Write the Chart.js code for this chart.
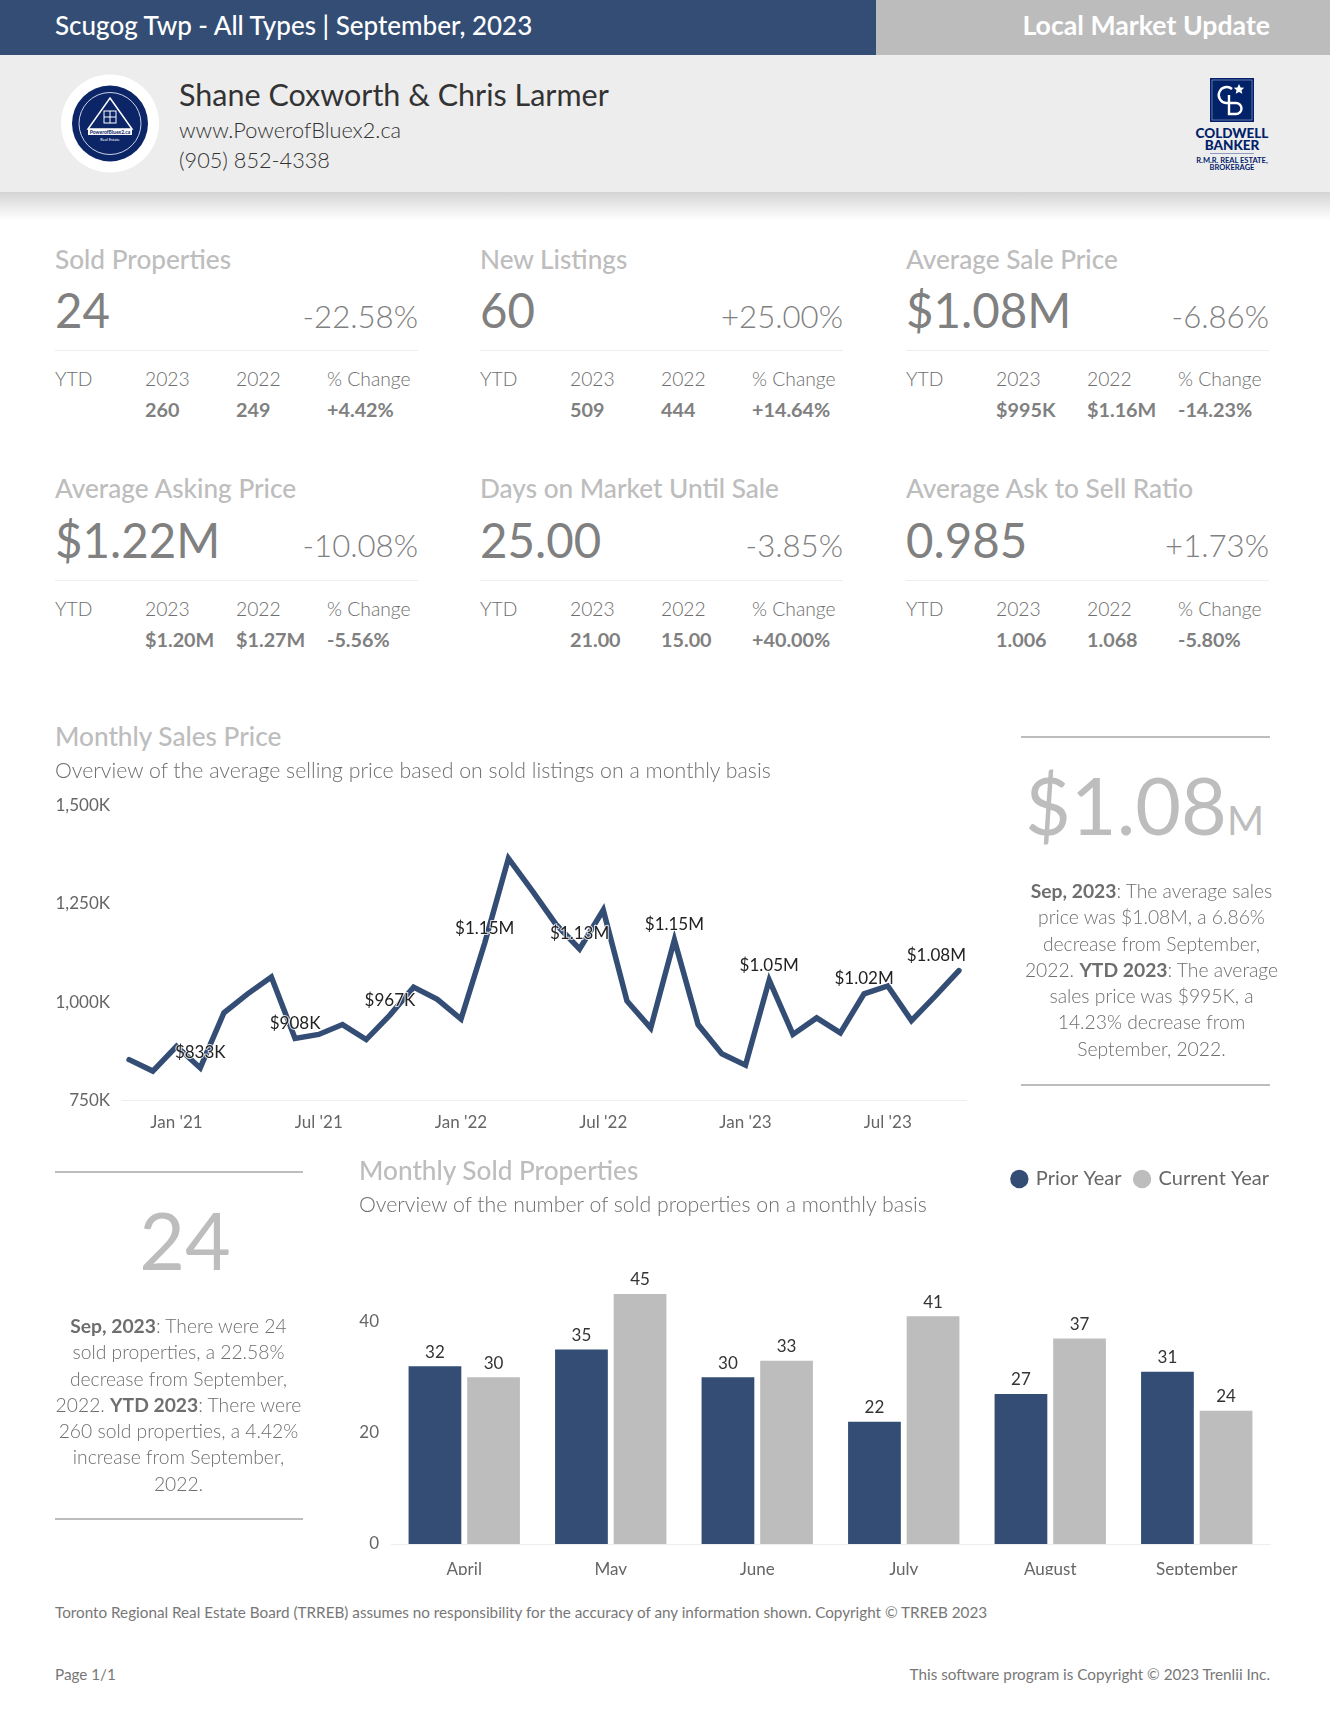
<!DOCTYPE html>
<html>
<head>
<meta charset="utf-8">
<title>Local Market Update</title>
<script src="https://cdn.jsdelivr.net/npm/chart.js@4"></script>
<style>
  html, body { margin: 0; padding: 0; background: #fff; }
  #page { position: relative; width: 1330px; height: 1722px; overflow: hidden; font-family: Lato, sans-serif; }
  .t { position: absolute; white-space: pre; line-height: 1.2; }
  .box { position: absolute; }
  canvas { position: absolute; }
</style>
</head>
<body>
<div id="page">
  <div class="box" style="left:0;top:0;width:876px;height:55px;background:#334d75"></div>
  <div class="box" style="left:876px;top:0;width:454px;height:55px;background:#bcbcbc"></div>
  <div class="box" style="left:0;top:55px;width:1330px;height:137px;background:#ededed"></div>
  <div class="box" style="left:0;top:192px;width:1330px;height:28px;background:linear-gradient(#d4d4d4,#fff)"></div>
  <svg class="box" style="left:61px;top:74px" width="98" height="99" viewBox="0 0 98 99">
    <circle cx="49" cy="49.5" r="49" fill="#fff"/>
    <circle cx="49" cy="49.5" r="38" fill="#0b2566"/>
    <circle cx="49" cy="49.5" r="31" fill="none" stroke="#c9d2e6" stroke-width="1"/>
    <path d="M49 24 L71 55 H27 Z" fill="none" stroke="#fff" stroke-width="1.5"/>
    <rect x="43" y="37" width="12" height="12" fill="none" stroke="#fff"/>
    <path d="M49 37 V49 M43 43 H55" stroke="#fff"/>
    <rect x="27" y="55" width="44" height="6" fill="#fff"/>
    <text x="49" y="60" font-size="5" font-family="Lato" font-weight="700" text-anchor="middle" fill="#0b2566">PowerofBluex2.ca</text>
    <text x="49" y="67" font-size="4" font-family="Lato" text-anchor="middle" fill="#fff">Real Estate</text>
  </svg>
  <svg class="box" style="left:1210px;top:78px" width="44" height="44" viewBox="0 0 44 44">
    <rect width="44" height="44" fill="#012169"/>
    <rect x="2" y="2" width="40" height="40" fill="none" stroke="#8f9cc0" stroke-width="0.7"/>
    <path d="M22 11 A8 8 0 1 0 16 25 H26 A5 5 0 0 1 26 36 H19 V17" fill="none" stroke="#fff" stroke-width="2.4"/>
    <path d="M29 6 l1.6 3.4 3.6.4-2.7 2.4.8 3.6-3.3-1.9-3.3 1.9.8-3.6-2.7-2.4 3.6-.4z" fill="#fff"/>
  </svg>
  <canvas id="priceChart" width="920" height="362" style="left:55px;top:783px"></canvas>
  <canvas id="soldChart" width="944" height="420" style="left:340px;top:1155px"></canvas>
</div>
<script>
const monthLabels = ["", "", "Jan '21", "", "", "", "", "", "Jul '21", "", "", "", "", "", "Jan '22", "", "", "", "", "", "Jul '22", "", "", "", "", "", "Jan '23", "", "", "", "", "", "Jul '23", "", "", ""];
const priceValues = [854, 825, 888, 833, 973, 1021, 1064, 908, 918, 943, 905, 967, 1038, 1007, 957, 1150, 1365, 1283, 1198, 1135, 1234, 1003, 934, 1158, 943, 869, 840, 1056, 918, 960, 922, 1021, 1041, 953, 1015, 1080];
const priceLabels = { 3: "$833K", 7: "$908K", 11: "$967K", 15: "$1.15M", 19: "$1.13M", 23: "$1.15M", 27: "$1.05M", 31: "$1.02M", 35: "$1.08M" };
const priceTicks = [750, 1000, 1250, 1500];

const soldMonths = ["April", "May", "June", "July", "August", "September"];
const priorYear = [32, 35, 30, 22, 27, 31];
const currentYear = [30, 45, 33, 41, 37, 24];
const soldTicks = [0, 20, 40];

const cardTitles = ["Sold Properties", "New Listings", "Average Sale Price", "Average Asking Price", "Days on Market Until Sale", "Average Ask to Sell Ratio"];
const cardValues = ["24", "60", "$1.08M", "$1.22M", "25.00", "0.985"];
const cardChanges = ["-22.58%", "+25.00%", "-6.86%", "-10.08%", "-3.85%", "+1.73%"];
const ytd2023 = ["260", "509", "$995K", "$1.20M", "21.00", "1.006"];
const ytd2022 = ["249", "444", "$1.16M", "$1.27M", "15.00", "1.068"];
const ytdChange = ["+4.42%", "+14.64%", "-14.23%", "-5.56%", "+40.00%", "-5.80%"];

const priceNote = [["Sep, 2023", ": The average sales"], ["", "price was $1.08M, a 6.86%"], ["", "decrease from September,"], ["", "2022. ", "YTD 2023", ": The average"], ["", "sales price was $995K, a"], ["", "14.23% decrease from"], ["", "September, 2022."]];
const soldNote = [["Sep, 2023", ": There were 24"], ["", "sold properties, a 22.58%"], ["", "decrease from September,"], ["", "2022. ", "YTD 2023", ": There were"], ["", "260 sold properties, a 4.42%"], ["", "increase from September,"], ["", "2022."]];

const BLUE = '#334d75', GREY = '#bdbdbd', TEXT = '#808080', LIGHT = '#6e6e6e';
const page = document.getElementById('page');

// text placed by its baseline
function text(str, x, base, size, color, weight, align) {
  const d = document.createElement('div');
  d.className = 't';
  d.textContent = str;
  d.style.top = (base - size * 0.987) + 'px';
  d.style.fontSize = size + 'px';
  d.style.color = color;
  d.style.fontWeight = weight || 400;
  if (align === 'right') d.style.right = (1330 - x) + 'px';
  else if (align === 'center') { d.style.left = (x - 300) + 'px'; d.style.width = '600px'; d.style.textAlign = 'center'; }
  else d.style.left = x + 'px';
  page.appendChild(d);
  return d;
}
function rule(x, y, w, color, h) {
  const d = document.createElement('div');
  d.className = 'box';
  d.style.cssText += `left:${x}px;top:${y}px;width:${w}px;height:${h || 1}px;background:${color}`;
  page.appendChild(d);
}
function note(lines, cx, base) {
  lines.forEach((parts, i) => {
    const d = text('', cx, base + i * 26.3, 19.3, LIGHT, 300, 'center');
    parts.forEach((p, j) => {
      const s = document.createElement('span');
      s.textContent = p;
      if (j % 2 === 0) s.style.fontWeight = 700;
      d.appendChild(s);
    });
  });
}

text('Scugog Twp - All Types | September, 2023', 55, 36, 26, '#fff', 500);
text('Local Market Update', 1270, 35, 26.7, '#fff', 700, 'right');
text('Shane Coxworth & Chris Larmer', 179, 106, 30.5, '#333', 400);
text('www.PowerofBluex2.ca', 179, 138, 21.7, '#333', 300);
text('(905) 852-4338', 179, 168, 21.7, '#333', 300);
text('COLDWELL', 1232, 138, 13.5, '#012169', 900, 'center');
text('BANKER', 1232, 150, 13.5, '#012169', 900, 'center');
rule(1210, 153, 44, '#8f9cc0');
text('R.M.R. REAL ESTATE,', 1232, 163.5, 7.5, '#012169', 700, 'center');
text('BROKERAGE', 1232, 170, 7.5, '#012169', 700, 'center');

cardTitles.forEach((title, i) => {
  const x = [55, 480, 906][i % 3], dy = i < 3 ? 0 : 229.5;
  text(title, x, (i < 3 ? 270 : 498.5), 26.2, GREY, 500);
  text(cardValues[i], x, 329 + dy, 47.4, TEXT, 400);
  text(cardChanges[i], x + 363, (i < 3 ? 329 : 557.5), 31.2, TEXT, 300, 'right');
  rule(x, 350 + dy, 363, '#eeeeee');
  const ytdBase = i < 3 ? 386 : 616;
  text('YTD', x, ytdBase, 19.3, LIGHT, 300);
  text('2023', x + 90, ytdBase, 19.3, LIGHT, 300);
  text('2022', x + 181, ytdBase, 19.3, LIGHT, 300);
  text('% Change', x + 272, ytdBase, 19.3, LIGHT, 300);
  text(ytd2023[i], x + 90, 418 + dy, 19.8, TEXT, 700);
  text(ytd2022[i], x + 181, 418 + dy, 19.8, TEXT, 700);
  text(ytdChange[i], x + 272, 418 + dy, 19.8, TEXT, 700);
});

text('Monthly Sales Price', 55, 747, 26.2, GREY, 500);
text('Overview of the average selling price based on sold listings on a monthly basis', 55, 779, 21.3, LIGHT, 300);
rule(1021, 736, 249, GREY, 2);
const big = text('$1.08', 1025, 836, 79, GREY, 400);
const bigUnit = document.createElement('span');
bigUnit.textContent = 'M';
bigUnit.style.fontSize = '40px';
big.appendChild(bigUnit);
note(priceNote, 1151.5, 898);
rule(1021, 1084, 249, GREY, 2);

rule(55, 1171, 248, GREY, 2);
text('24', 185, 1271, 79, GREY, 400, 'center');
note(soldNote, 178.5, 1333);
rule(55, 1518, 248, GREY, 2);
text('Monthly Sold Properties', 359, 1181, 26.2, GREY, 500);
text('Overview of the number of sold properties on a monthly basis', 359, 1213, 21.3, LIGHT, 300);

text('Toronto Regional Real Estate Board (TRREB) assumes no responsibility for the accuracy of any information shown. Copyright © TRREB 2023', 55, 1618, 15.25, '#777', 400);
text('Page 1/1', 55, 1680, 15.25, '#777', 400);
text('This software program is Copyright © 2023 Trenlii Inc.', 1270, 1680, 15.25, '#777', 400, 'right');

// value labels above the points and bars, there is no datalabels plugin here
const valueLabels = {
  id: 'valueLabels',
  afterDatasetsDraw(chart, args, opts) {
    const ctx = chart.ctx;
    ctx.save();
    ctx.font = opts.font;
    ctx.textAlign = 'center';
    ctx.textBaseline = 'middle';
    ctx.fillStyle = opts.color;
    chart.data.datasets.forEach((ds, di) => {
      chart.getDatasetMeta(di).data.forEach((el, i) => {
        const label = opts.text(di, i);
        if (label === undefined) return;
        // labels stay inside the plot at its right end
        const halfW = ctx.measureText(label).width / 2;
        const x = Math.min(el.x, chart.chartArea.right - halfW);
        if (opts.halo) {
          ctx.strokeStyle = 'rgba(255,255,255,0.8)';
          ctx.lineWidth = opts.halo;
          ctx.strokeText(label, x, el.y - opts.gap);
        }
        ctx.fillText(label, x, el.y - opts.gap);
      });
    });
    ctx.restore();
  }
};

new Chart(document.getElementById('priceChart'), {
  type: 'line',
  plugins: [valueLabels],
  data: {
    datasets: [{
      data: priceValues.map((v, i) => ({ x: i, y: v })),
      borderColor: BLUE,
      borderWidth: 5.5,
      borderJoinStyle: 'miter',
      borderCapStyle: 'round',
      pointRadius: 0,
      tension: 0,
      clip: false
    }]
  },
  options: {
    responsive: false,
    animation: false,
    layout: { padding: { top: 0, right: 9 } },
    plugins: {
      legend: { display: false },
      tooltip: { enabled: false },
      valueLabels: {
        font: '400 17px Lato',
        color: '#222',
        gap: 15,
        halo: 2,
        text: (di, i) => priceLabels[i]
      }
    },
    scales: {
      x: {
        type: 'linear',
        min: -0.3,
        max: 35.3,
        grid: { display: false, drawTicks: false },
        border: { color: '#eeeeee' },
        afterBuildTicks: s => { s.ticks = monthLabels.map((l, i) => ({ value: i, label: l })).filter(t => t.label); },
        ticks: {
          autoSkip: false,
          maxRotation: 0,
          padding: 12,
          color: '#666',
          font: { family: 'Lato', size: 17 },
          callback: v => monthLabels[v]
        }
      },
      y: {
        min: 750,
        max: 1500,
        afterFit: s => { s.width = 67; },
        afterBuildTicks: s => { s.ticks = priceTicks.map(v => ({ value: v })); },
        grid: { display: false, drawTicks: false },
        border: { display: false },
        ticks: {
          padding: 12,
          color: '#666',
          font: { family: 'Lato', size: 17 },
          callback: v => v.toLocaleString('en-US') + 'K'
        }
      }
    }
  }
});

new Chart(document.getElementById('soldChart'), {
  type: 'bar',
  plugins: [valueLabels, {
    // the legend keeps a gap at its right end, push it to the page margin
    id: 'legendShift',
    afterLayout(chart) { chart.legend.left += 13; chart.legend.right += 13; }
  }],
  data: {
    labels: soldMonths,
    datasets: [
      { label: 'Prior Year', data: priorYear, backgroundColor: BLUE, barPercentage: 0.9, categoryPercentage: 0.8 },
      { label: 'Current Year', data: currentYear, backgroundColor: GREY, barPercentage: 0.9, categoryPercentage: 0.8 }
    ]
  },
  options: {
    responsive: false,
    animation: false,
    layout: { padding: { right: 14 } },
    plugins: {
      tooltip: { enabled: false },
      legend: {
        position: 'top',
        align: 'end',
        labels: {
          usePointStyle: true,
          pointStyle: 'circle',
          boxWidth: 13,
          boxHeight: 13,
          padding: 14,
          color: '#666',
          font: { family: 'Lato', size: 20 }
        }
      },
      valueLabels: {
        font: '400 17px Lato',
        color: '#333',
        gap: 14,
        text: (di, i) => (di === 0 ? priorYear : currentYear)[i]
      }
    },
    scales: {
      x: {
        afterFit: s => { s.height = 31; },
        grid: { display: false, drawTicks: false },
        border: { color: '#eeeeee' },
        ticks: { maxRotation: 0, padding: 15, color: '#666', font: { family: 'Lato', size: 17 } }
      },
      y: {
        min: 0,
        max: 62.1,
        afterFit: s => { s.width = 51; },
        afterBuildTicks: s => { s.ticks = soldTicks.map(v => ({ value: v })); },
        grid: { display: false, drawTicks: false },
        border: { display: false },
        ticks: {
          padding: 12,
          color: '#666',
          font: { family: 'Lato', size: 17 }
        }
      }
    }
  }
});
</script>
</body>
</html>
